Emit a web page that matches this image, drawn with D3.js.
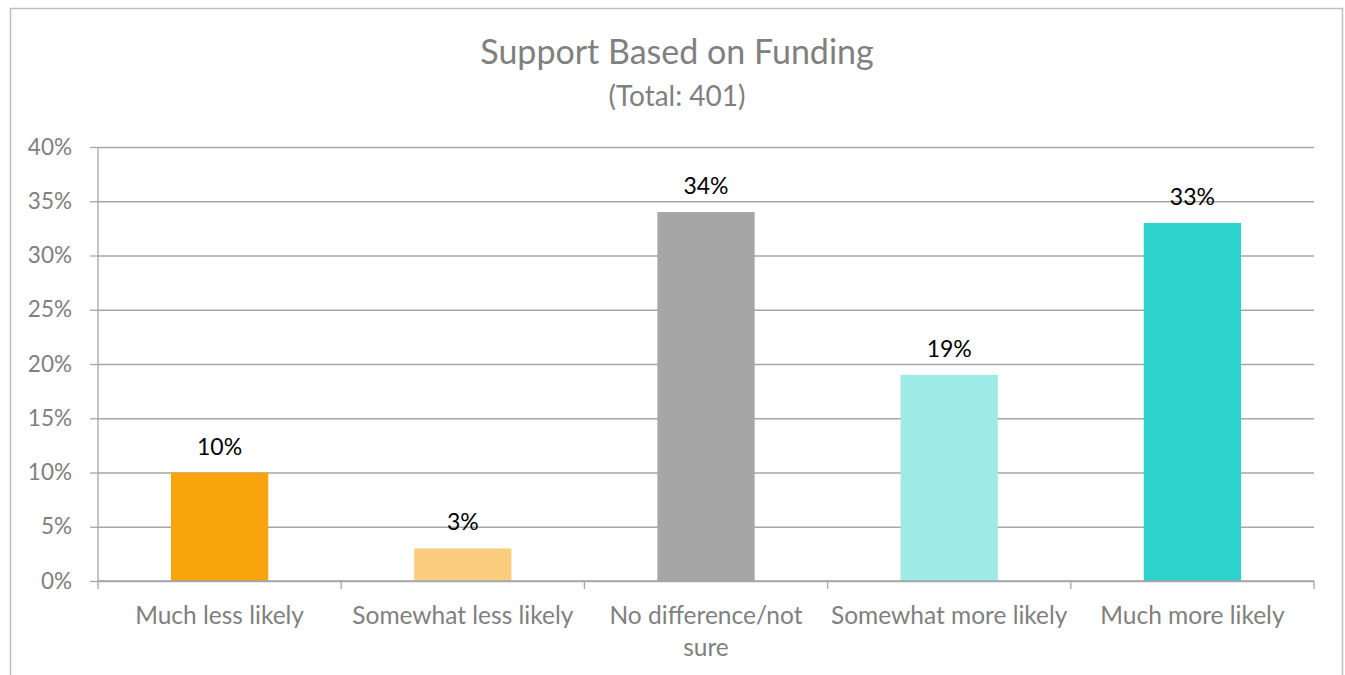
<!DOCTYPE html>
<html>
<head>
<meta charset="utf-8">
<script src="https://d3js.org/d3.v7.min.js"></script>
<style>
  html, body { margin: 0; padding: 0; background: #fff; }
  svg { display: block; font-family: Lato, "Open Sans", sans-serif; }
</style>
</head>
<body>
<div id="chart"></div>
<script>
// data
const categories = ['Much less likely', 'Somewhat less likely', 'No difference/not sure', 'Somewhat more likely', 'Much more likely'];
const values = [10, 3, 34, 19, 33];
const barColors = ['#F9A40C', '#FCCD7F', '#A6A6A6', '#9DEAE6', '#2CD3CD'];
const yTicks = [0, 5, 10, 15, 20, 25, 30, 35, 40];

const W = 1345, H = 675;
const margin = { top: 147, right: 31, bottom: 94, left: 98 };
const w = W - margin.left - margin.right;
const h = H - margin.top - margin.bottom;

const svg = d3.select('#chart').append('svg')
  .attr('width', W).attr('height', H);

// outer frame (bottom runs off the picture)
svg.append('path')
  .attr('d', `M10.5,${H + 5} V8.5 H1342.5 V${H + 5}`)
  .attr('fill', 'none').attr('stroke', '#BFBFBF').attr('stroke-width', 1.5);

svg.append('text')
  .attr('x', 677).attr('y', 64)
  .attr('text-anchor', 'middle')
  .attr('font-size', 34).attr('fill', '#808080')
  .text('Support Based on Funding');

svg.append('text')
  .attr('x', 677).attr('y', 106)
  .attr('text-anchor', 'middle')
  .attr('font-size', 28).attr('fill', '#808080')
  .text('(Total: 401)');

const g = svg.append('g').attr('transform', `translate(${margin.left},${margin.top})`);

const x = d3.scaleBand().domain(categories).range([0, w]).paddingInner(0.6).paddingOuter(0.3);
const xb = d3.scaleBand().domain(categories).range([0, w]);
const y = d3.scaleLinear().domain([0, 40]).range([h, 0]);

// gridlines + y ticks
g.append('g')
  .call(d3.axisLeft(y).tickValues(yTicks).tickSize(-w).tickFormat(''))
  .call(s => s.select('.domain').remove())
  .call(s => s.selectAll('line').attr('stroke', '#A6A6A6').attr('stroke-width', 1.3));

g.append('g')
  .call(d3.axisLeft(y).tickValues(yTicks).tickSize(8).tickPadding(18).tickFormat(d => d + '%'))
  .call(s => s.select('.domain').remove())
  .call(s => s.selectAll('line').attr('stroke', '#A6A6A6').attr('stroke-width', 1.3))
  .call(s => s.selectAll('text').attr('font-size', 22.5).attr('fill', '#808080').attr('font-family', 'Lato, sans-serif'));

// vertical axis line
g.append('line')
  .attr('x1', 0).attr('x2', 0).attr('y1', 0).attr('y2', h + 8)
  .attr('stroke', '#A6A6A6').attr('stroke-width', 1.3);

// bars
g.selectAll('rect.bar')
  .data(values)
  .join('rect')
  .attr('class', 'bar')
  .attr('x', (d, i) => x(categories[i]))
  .attr('width', x.bandwidth())
  .attr('y', d => y(d))
  .attr('height', d => h - y(d))
  .attr('fill', (d, i) => barColors[i]);

// x axis with ticks at category boundaries
g.append('line')
  .attr('x1', 0).attr('x2', w).attr('y1', h).attr('y2', h)
  .attr('stroke', '#A6A6A6').attr('stroke-width', 1.3);
g.selectAll('line.xtick')
  .data(categories.map((c, i) => i + 1))
  .join('line')
  .attr('class', 'xtick')
  .attr('x1', i => i * xb.step()).attr('x2', i => i * xb.step())
  .attr('y1', h).attr('y2', h + 8)
  .attr('stroke', '#A6A6A6').attr('stroke-width', 1.3);

// category labels, wrapped like the reference
const wrapped = {
  'No difference/not sure': ['No difference/not', 'sure']
};
g.selectAll('text.cat')
  .data(categories)
  .join('text')
  .attr('class', 'cat')
  .attr('x', d => xb(d) + xb.bandwidth() / 2)
  .attr('y', h + 43)
  .attr('text-anchor', 'middle')
  .attr('font-size', 24.5).attr('fill', '#808080')
  .each(function(d) {
    const lines = wrapped[d] || [d];
    d3.select(this).selectAll('tspan')
      .data(lines)
      .join('tspan')
      .attr('x', xb(d) + xb.bandwidth() / 2)
      .attr('dy', (l, i) => i === 0 ? 0 : 32)
      .text(l => l);
  });

// data labels
g.selectAll('text.val')
  .data(values)
  .join('text')
  .attr('class', 'val')
  .attr('x', (d, i) => x(categories[i]) + x.bandwidth() / 2)
  .attr('y', d => y(d) - 18)
  .attr('text-anchor', 'middle')
  .attr('font-size', 23).attr('fill', '#000')
  .text(d => d + '%');
</script>
</body>
</html>
